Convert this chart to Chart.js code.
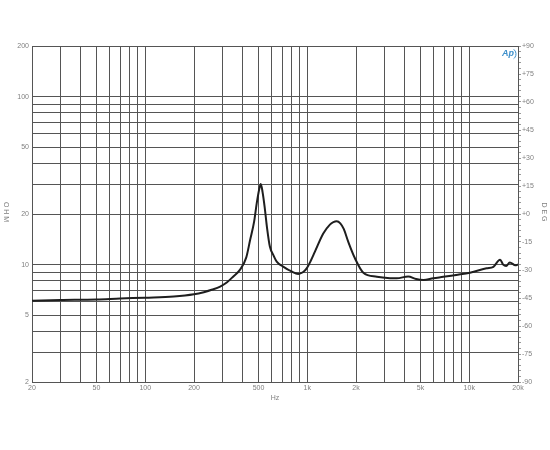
<!DOCTYPE html>
<html>
<head>
<meta charset="utf-8">
<script src="https://cdn.jsdelivr.net/npm/chart.js@4/dist/chart.umd.min.js"></script>
<style>
  html, body { margin: 0; padding: 0; background: #fff; }
  #wrap { width: 550px; height: 450px; }
</style>
</head>
<body>
<div id="wrap"><canvas id="mychart" width="550" height="450"></canvas></div>
<script>
// impedance curve
var freq = [20, 30, 50, 70, 100, 150, 200, 230, 260, 290, 320, 350, 384, 420, 444, 470, 488, 505, 517, 530, 546, 565, 588, 620, 648, 714, 800, 880, 940, 992, 1050, 1114, 1256, 1380, 1450, 1520, 1600, 1680, 1790, 1970, 2220, 2690, 3240, 3570, 4200, 4700, 5220, 6000, 6920, 8500, 10100, 12800, 14100, 15500, 16200, 16900, 17800, 19300, 20000]
var ohm = [6.1, 6.15, 6.2, 6.28, 6.35, 6.45, 6.65, 6.85, 7.1, 7.4, 7.85, 8.5, 9.3, 11, 14, 18, 23.2, 28, 30.2, 27, 22, 16.5, 12.8, 11.3, 10.4, 9.7, 9.1, 8.8, 9.0, 9.5, 10.5, 11.9, 15.3, 17.3, 17.9, 18.1, 17.6, 16.3, 13.7, 10.9, 8.95, 8.47, 8.3, 8.28, 8.5, 8.2, 8.1, 8.3, 8.45, 8.7, 8.95, 9.5, 9.7, 10.7, 10.0, 9.8, 10.3, 9.9, 10.0]

var xGrid = [20, 30, 40, 50, 60, 70, 80, 90, 100, 200, 300, 400, 500, 600, 700, 800, 900, 1000, 2000, 3000, 4000, 5000, 6000, 7000, 8000, 9000, 10000, 20000]
var xLabels = {20: "20", 50: "50", 100: "100", 200: "200", 500: "500", 1000: "1k", 2000: "2k", 5000: "5k", 10000: "10k", 20000: "20k"}
var yGrid = [2, 3, 4, 5, 6, 7, 8, 9, 10, 20, 30, 40, 50, 60, 70, 80, 90, 100, 200]
var yLabels = [2, 5, 10, 20, 50, 100, 200]
var phaseMin = -90, phaseMax = 90, phaseStep = 3

var points = []
for (var i = 0; i < freq.length; i++) {
    points.push({x: freq[i], y: ohm[i]})
}

var gridCol = "#555555"
var txtCol = "#808080"
var tickFont = {family: "Liberation Sans", size: 7}

// axis names, Hz and the logo
var extras = {
    id: "extras",
    afterDraw: function(chart) {
        var c = chart.ctx
        var a = chart.chartArea
        c.save()
        c.fillStyle = txtCol
        c.font = "7px 'Liberation Sans'"
        c.textAlign = "center"
        c.textBaseline = "middle"
        c.fillText("Hz", (a.left + a.right) / 2, 398)

        c.save()
        c.translate(6, 212)
        c.rotate(Math.PI / 2)
        c.fillText("O H M", 0, 0)
        c.restore()

        c.save()
        c.translate(544, 212)
        c.rotate(Math.PI / 2)
        c.fillText("D E G", 0, 0)
        c.restore()

        c.fillStyle = "#3d8fca"
        c.font = "italic bold 9px 'Liberation Sans'"
        c.fillText("Ap", 508, 54)
        c.strokeStyle = "#3d8fca"
        c.lineWidth = 1
        c.beginPath()
        c.arc(510, 54, 6, -0.9, 0.9)
        c.stroke()
        c.restore()
    }
}

var ctx = document.getElementById("mychart").getContext("2d")
var chart = new Chart(ctx, {
    type: "line",
    data: {
        datasets: [{
            data: points,
            borderColor: "#1e1e1e",
            borderWidth: 2,
            pointRadius: 0,
            fill: false,
            cubicInterpolationMode: "monotone",
            yAxisID: "y"
        }]
    },
    options: {
        responsive: false,
        animation: false,
        events: [],
        layout: {padding: {top: 46, left: 0, right: 0, bottom: 0}},
        plugins: {legend: {display: false}, tooltip: {enabled: false}},
        scales: {
            x: {
                type: "logarithmic",
                min: 20,
                max: 20000,
                afterBuildTicks: function(s) {
                    s.ticks = xGrid.map(function(v) { return {value: v} })
                },
                afterFit: function(s) { s.height = 68 },
                ticks: {
                    autoSkip: false,
                    maxRotation: 0,
                    padding: 2,
                    color: txtCol,
                    font: tickFont,
                    callback: function(v) { return xLabels[v] || "" }
                },
                grid: {color: gridCol, lineWidth: 1, drawTicks: false},
                border: {color: gridCol}
            },
            y: {
                type: "logarithmic",
                position: "left",
                min: 2,
                max: 200,
                afterBuildTicks: function(s) {
                    s.ticks = yGrid.map(function(v) { return {value: v} })
                },
                afterFit: function(s) { s.width = 32 },
                ticks: {
                    autoSkip: false,
                    padding: 3,
                    color: txtCol,
                    font: tickFont,
                    callback: function(v) { return yLabels.indexOf(v) >= 0 ? String(v) : "" }
                },
                grid: {color: gridCol, lineWidth: 1, drawTicks: false},
                border: {color: gridCol}
            },
            phase: {
                type: "linear",
                position: "right",
                min: phaseMin,
                max: phaseMax,
                afterFit: function(s) { s.width = 32 },
                ticks: {
                    stepSize: phaseStep,
                    autoSkip: false,
                    padding: 1,
                    color: txtCol,
                    font: tickFont,
                    callback: function(v) {
                        if (v % 15 != 0) return ""
                        return v > 0 ? "+" + v : (v == 0 ? "+0" : String(v))
                    }
                },
                grid: {drawOnChartArea: false, color: "#9a9a9a", tickLength: 3},
                border: {color: gridCol}
            }
        }
    },
    plugins: [extras]
})
</script>
</body>
</html>
